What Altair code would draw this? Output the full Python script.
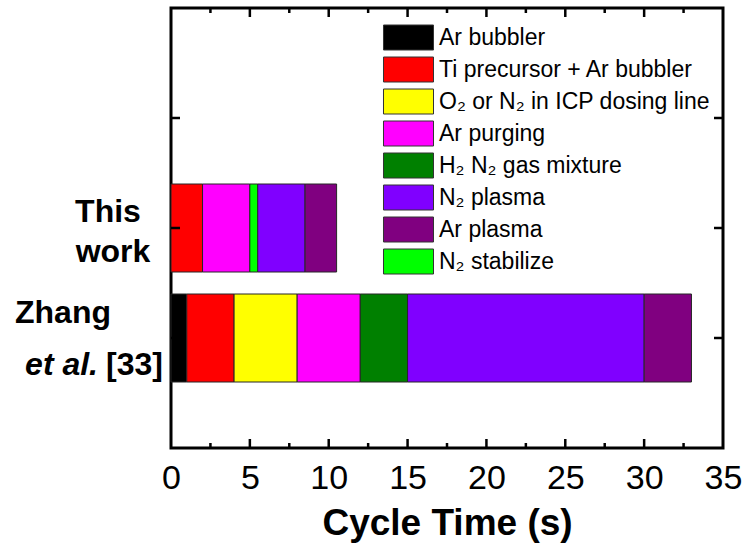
import altair as alt
import pandas as pd

# Process steps (legend order) and their fill colours
phases = [
    "Ar bubbler",
    "Ti precursor + Ar bubbler",
    "O₂ or N₂ in ICP dosing line",
    "Ar purging",
    "H₂ N₂ gas mixture",
    "N₂ plasma",
    "Ar plasma",
    "N₂ stabilize",
]
phase_colors = ["#000000", "#FF0000", "#FFFF00", "#FF00FF",
                "#008000", "#8000FF", "#800080", "#00FF00"]

# One ALD cycle per row: step sequence and step durations (s)
this_work_steps = ["Ti precursor + Ar bubbler", "Ar purging", "N₂ stabilize",
                   "N₂ plasma", "Ar plasma"]
this_work_times = [2.0, 3.0, 0.5, 3.0, 2.0]

zhang_steps = ["Ar bubbler", "Ti precursor + Ar bubbler",
               "O₂ or N₂ in ICP dosing line", "Ar purging",
               "H₂ N₂ gas mixture", "N₂ plasma", "Ar plasma"]
zhang_times = [1.0, 3.0, 4.0, 4.0, 3.0, 15.0, 3.0]

# Row positions on the vertical axis
row_names = ["This work", "Zhang et al. [33]"]
row_pos = [2, 1]

# Axis tick values
x_labels = [0, 5, 10, 15, 20, 25, 30, 35]
x_major = [5, 10, 15, 20, 25, 30]
x_minor = [2.5, 7.5, 12.5, 17.5, 22.5, 27.5, 32.5]
y_ticks = [1, 2, 3]

rows = []
for name, pos, steps, times in [
    (row_names[0], row_pos[0], this_work_steps, this_work_times),
    (row_names[1], row_pos[1], zhang_steps, zhang_times),
]:
    for i, (s, t) in enumerate(zip(steps, times)):
        rows.append({"row": name, "pos": pos, "seq": i, "phase": s, "dur": t})
bars_df = pd.DataFrame(rows)

W, H = 552, 440
FONT = "Liberation Sans"

x_scale = alt.Scale(domain=[0, 35], nice=False, zero=False)
y_scale = alt.Scale(domain=[0, 4], nice=False, zero=False)

x_axis = alt.Axis(
    title="Cycle Time (s)", values=x_labels, format="d",
    ticks=False, domain=False, grid=False,
    labelFont=FONT, labelFontSize=34, labelColor="black",
    labelPadding=13, labelFlush=False,
    titleFont=FONT, titleFontSize=37, titleFontWeight="bold",
    titleColor="black", titlePadding=10,
)

# 2:1 swatch path; with symbolSize 900 it draws 50 x 25 px
swatch = "M-1.6667,-0.8333L1.6667,-0.8333L1.6667,0.8333L-1.6667,0.8333Z"

bars = (
    alt.Chart(bars_df)
    .transform_window(
        end="sum(dur)", sort=[alt.SortField("seq")], groupby=["row"],
        frame=[None, 0],
    )
    .transform_calculate(
        start="datum.end - datum.dur",
        y_lo="datum.pos - 0.4",
        y_hi="datum.pos + 0.4",
    )
    .mark_rect(stroke="#262626", strokeWidth=1)
    .encode(
        x=alt.X("start:Q", scale=x_scale, axis=x_axis),
        x2="end:Q",
        y=alt.Y("y_lo:Q", scale=y_scale, axis=None),
        y2="y_hi:Q",
        color=alt.Color(
            "phase:N",
            scale=alt.Scale(domain=phases, range=phase_colors),
            legend=alt.Legend(
                title=None, orient="none", legendX=222, legendY=14,
                symbolType=swatch, symbolSize=900,
                symbolStrokeColor="#333333", symbolStrokeWidth=1,
                symbolOpacity=1,
                labelFont=FONT, labelFontSize=23, labelColor="black",
                labelOffset=15, labelLimit=400, rowPadding=2,
            ),
        ),
    )
)

# Inward tick marks on all four sides of the frame
major_df = pd.DataFrame({"start": x_major})
minor_df = pd.DataFrame({"start": x_minor})
ytick_df = pd.DataFrame({"v": y_ticks})

def xticks(df, length, top):
    y0 = 0 if top else H
    y1 = length if top else H - length
    return alt.Chart(df).mark_rule(color="black", strokeWidth=2.5).encode(
        x=alt.X("start:Q", scale=x_scale, axis=x_axis),
        y=alt.value(y0), y2=alt.value(y1),
    )

def yticks(left):
    x0 = 0 if left else W
    x1 = 9 if left else W - 9
    return alt.Chart(ytick_df).mark_rule(color="black", strokeWidth=2.5).encode(
        y=alt.Y("v:Q", scale=y_scale, axis=None),
        x=alt.value(x0), x2=alt.value(x1),
    )

tick_layers = [
    xticks(major_df, 9, False), xticks(minor_df, 5, False),
    xticks(major_df, 9, True), xticks(minor_df, 5, True),
    yticks(True), yticks(False),
]

# Row labels to the left of the frame
lab_df = pd.DataFrame({"pos": row_pos})

def row_text(text, pos, x, dy, align, style="normal"):
    d = lab_df[lab_df["pos"] == pos]
    return alt.Chart(d).mark_text(
        text=text, font=FONT, fontSize=32, fontWeight="bold", fontStyle=style,
        align=align, baseline="alphabetic", dy=dy, color="black",
    ).encode(
        x=alt.value(x),
        y=alt.Y("pos:Q", scale=y_scale, axis=None),
    )

label_layers = [
    row_text("This", row_pos[0], -63, -6, "center"),
    row_text("work", row_pos[0], -58, 34, "center"),
    row_text("Zhang", row_pos[1], -156, -15, "left"),
    row_text("et al.", row_pos[1], -73, 37, "right", style="italic"),
    row_text("[33]", row_pos[1], -8, 37, "right"),
]

chart = (
    alt.layer(bars, *tick_layers, *label_layers)
    .properties(
        width=W, height=H,
        autosize=alt.AutoSizeParams(type="none"),
        padding={"left": 171, "top": 8, "right": 23, "bottom": 106},
    )
    .configure_view(stroke="black", strokeWidth=3)
)

chart.save("out.html", embed_options={"renderer": "svg", "actions": False})
